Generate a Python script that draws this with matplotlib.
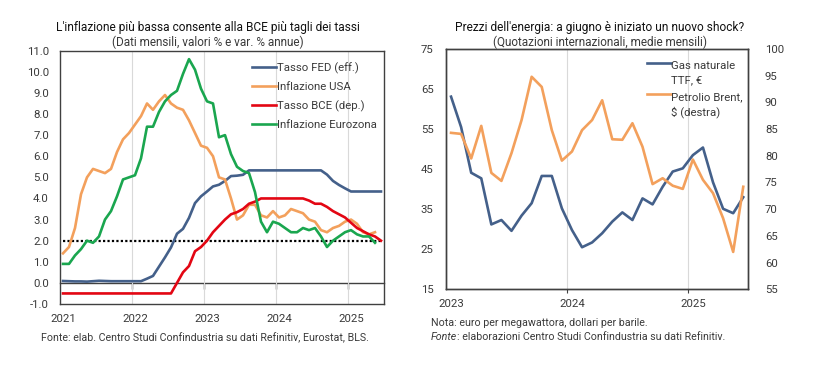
import matplotlib
matplotlib.use("Agg")
import matplotlib.pyplot as plt
from matplotlib.ticker import FixedLocator, NullFormatter, FuncFormatter
from matplotlib.legend_handler import HandlerLine2D
from matplotlib.text import Annotation
import numpy as np

plt.rcParams['font.family'] = ['Roboto', 'DejaVu Sans']

# ---------------- data: left chart (monthly, Jan 2021 - Jun 2025) ----------------
years_left = ['2021', '2022', '2023', '2024', '2025']
fed_rate = [0.09, 0.08, 0.07, 0.07, 0.06, 0.08, 0.10, 0.09, 0.08, 0.08, 0.08, 0.08,
            0.08, 0.08, 0.20, 0.33, 0.77, 1.21, 1.68, 2.33, 2.56, 3.08, 3.78, 4.10,
            4.33, 4.57, 4.65, 4.83, 5.06, 5.08, 5.12, 5.33, 5.33, 5.33, 5.33, 5.33,
            5.33, 5.33, 5.33, 5.33, 5.33, 5.33, 5.33, 5.33, 5.13, 4.83, 4.64, 4.48,
            4.33, 4.33, 4.33, 4.33, 4.33, 4.33]
usa_infl = [1.4, 1.7, 2.6, 4.2, 5.0, 5.4, 5.3, 5.2, 5.4, 6.2, 6.8, 7.1,
            7.5, 7.9, 8.5, 8.2, 8.6, 8.9, 8.5, 8.3, 8.2, 7.7, 7.1, 6.5,
            6.4, 6.0, 5.0, 4.9, 4.0, 3.0, 3.2, 3.7, 3.7, 3.2, 3.1, 3.4,
            3.1, 3.2, 3.5, 3.4, 3.3, 3.0, 2.9, 2.5, 2.4, 2.6, 2.7, 2.9,
            3.0, 2.8, 2.4, 2.3, 2.4]
ecb_rate = [-0.5] * 12 + \
           [-0.5, -0.5, -0.5, -0.5, -0.5, -0.5, -0.5, 0.0, 0.5, 0.8, 1.5, 1.7,
            2.0, 2.4, 2.7, 3.0, 3.25, 3.35, 3.5, 3.75, 3.85, 4.0, 4.0, 4.0,
            4.0, 4.0, 4.0, 4.0, 4.0, 3.9, 3.75, 3.75, 3.6, 3.4, 3.25, 3.1,
            2.85, 2.6, 2.45, 2.3, 2.2, 2.0]
ez_infl = [0.9, 0.9, 1.3, 1.6, 2.0, 1.9, 2.2, 3.0, 3.4, 4.1, 4.9, 5.0,
           5.1, 5.9, 7.4, 7.4, 8.1, 8.6, 8.9, 9.1, 9.9, 10.6, 10.1, 9.2,
           8.6, 8.5, 6.9, 7.0, 6.1, 5.5, 5.3, 5.2, 4.3, 2.9, 2.4, 2.9,
           2.8, 2.6, 2.4, 2.4, 2.6, 2.5, 2.6, 2.2, 1.7, 2.0, 2.2, 2.4,
           2.5, 2.3, 2.2, 2.2, 1.9]
target = [2.0] * 54

# ---------------- data: right chart (monthly, Jan 2023 - Jun 2025) ----------------
years_right = ['2023', '2024', '2025']
gas_ttf = [63.1, 55.5, 44.1, 42.7, 31.2, 32.3, 29.6, 33.4, 36.5, 43.3, 43.3, 35.2,
           29.8, 25.5, 26.7, 29.0, 31.9, 34.2, 32.3, 37.7, 36.2, 40.6, 44.4, 45.2,
           48.5, 50.4, 41.7, 35.1, 34.0, 38.0]
brent = [84.3, 84.1, 79.5, 85.6, 76.8, 75.3, 80.5, 86.7, 94.8, 92.9, 84.8, 79.1,
         80.8, 84.8, 86.7, 90.4, 83.1, 83.0, 86.1, 81.7, 74.7, 75.8, 74.4, 73.8,
         79.3, 75.5, 73.0, 68.3, 62.0, 74.2]

BLUE = '#44608a'
ORANGE = '#f3a05c'
RED = '#e30613'
GREEN = '#1aa64f'
SPINE = '#404040'
GRID = '#d9d9d9'
TXT = '#3a3a3a'
FS_TICK = 8.2
FS_LEG = 8.2
FS_NOTE = 7.7


class TopLine(HandlerLine2D):
    """Legend line aligned with the first line of a two-line label."""
    def __init__(self, shift, **kw):
        super().__init__(**kw)
        self.shift = shift

    def create_artists(self, legend, orig_handle, xdescent, ydescent, width, height,
                       fontsize, trans):
        arts = super().create_artists(legend, orig_handle, xdescent, ydescent, width,
                                      height, fontsize, trans)
        for a in arts:
            a.set_ydata(np.asarray(a.get_ydata(), dtype=float) + self.shift)
        return arts


fig = plt.figure(figsize=(8.25, 3.76), dpi=100)

# ================= left chart =================
ax1 = fig.add_axes([60 / 825, 1 - 304 / 376, 324 / 825, 253.3 / 376])
xl = np.arange(len(fed_rate))
ax1.plot(np.arange(len(target)), target, color='black', ls=(0, (1, 1)), lw=1.6, zorder=2)
ax1.plot(xl, fed_rate, color=BLUE, lw=1.9, label='Tasso FED (eff.)', zorder=3)
ax1.plot(np.arange(len(usa_infl)), usa_infl, color=ORANGE, lw=1.9, label='Inflazione USA', zorder=3)
ax1.plot(xl, ecb_rate, color=RED, lw=1.9, label='Tasso BCE (dep.)', zorder=3)
ax1.plot(np.arange(len(ez_infl)), ez_infl, color=GREEN, lw=1.9, label='Inflazione Eurozona', zorder=3)

ax1.set_xlim(-0.5, len(fed_rate) - 0.5)
ax1.set_ylim(-1, 11)
ax1.set_yticks(np.arange(-1, 11.01, 1))
ax1.yaxis.set_major_formatter(FuncFormatter(lambda v, p: f'{v:.1f}'))
bounds_l = [12 * k - 0.5 for k in range(1, len(years_left))]
ax1.xaxis.set_major_locator(FixedLocator(bounds_l))
ax1.xaxis.set_major_formatter(NullFormatter())
ax1.xaxis.set_minor_locator(FixedLocator([12 * k for k in range(len(years_left))]))
ax1.set_xticklabels(years_left, minor=True)
ax1.tick_params(axis='x', which='both', length=0, pad=7, labelsize=FS_TICK, labelcolor=TXT)
ax1.tick_params(axis='y', length=0, pad=8, labelsize=FS_TICK, labelcolor=TXT)
ax1.grid(axis='x', which='major', color=GRID, lw=0.8)
ax1.set_axisbelow(True)
for s in ax1.spines.values():
    s.set_color(SPINE)
    s.set_linewidth(1.0)

zero = ax1.secondary_xaxis(1 / 12)
zero.xaxis.set_major_locator(FixedLocator(bounds_l))
zero.tick_params(axis='x', direction='out', length=4, width=1, color=SPINE,
                 labelbottom=False, labeltop=False)
for s in zero.spines.values():
    s.set_color(SPINE)
    s.set_linewidth(1.0)

leg1 = ax1.legend(loc='upper left', bbox_to_anchor=(0.593, 0.954), frameon=False,
                  fontsize=FS_LEG, handlelength=2.1, handletextpad=0.05, labelspacing=0.72,
                  borderpad=0, borderaxespad=0)
for t in leg1.get_texts():
    t.set_color(TXT)

fig.text(208 / 825, 1 - 27.5 / 376, "L'inflazione più bassa consente alla BCE più tagli dei tassi",
         ha='center', va='center', fontsize=8.6, color='#111111')
fig.text(208 / 825, 1 - 42.5 / 376, "(Dati mensili, valori % e var. % annue)",
         ha='center', va='center', fontsize=8.5, color=TXT)
fig.text(205 / 825, 1 - 338 / 376,
         "Fonte: elab. Centro Studi Confindustria su dati Refinitiv, Eurostat, BLS.",
         ha='center', va='center', fontsize=FS_NOTE, color=TXT)

# ================= right chart =================
ax2 = fig.add_axes([446 / 825, 1 - 289.3 / 376, 302.3 / 825, 240.3 / 376])
ax2r = ax2.twinx()
xr = np.arange(len(gas_ttf))
l_gas, = ax2.plot(xr, gas_ttf, color=BLUE, lw=1.9, label='Gas naturale\nTTF, €')
l_brent, = ax2r.plot(np.arange(len(brent)), brent, color=ORANGE, lw=1.9,
                     label='Petrolio Brent,\n$ (destra)')

ax2.set_xlim(-0.5, len(gas_ttf) - 0.5)
ax2.set_ylim(15, 75)
ax2.set_yticks(np.arange(15, 75.01, 10))
ax2r.set_ylim(55, 100)
ax2r.set_yticks(np.arange(55, 100.01, 5))
bounds_r = [12 * k - 0.5 for k in range(1, len(years_right))]
ax2.xaxis.set_major_locator(FixedLocator(bounds_r))
ax2.xaxis.set_major_formatter(NullFormatter())
ax2.xaxis.set_minor_locator(FixedLocator([12 * k for k in range(len(years_right))]))
ax2.set_xticklabels(years_right, minor=True)
ax2.tick_params(axis='x', which='major', direction='out', length=3, color=SPINE)
ax2.tick_params(axis='x', which='minor', length=0, pad=7)
ax2.tick_params(axis='x', which='both', labelsize=FS_TICK, labelcolor=TXT)
ax2.tick_params(axis='y', length=0, pad=9, labelsize=FS_TICK, labelcolor=TXT)
ax2r.tick_params(axis='y', length=0, pad=12, labelsize=FS_TICK, labelcolor=TXT)
ax2.grid(axis='x', which='major', color=GRID, lw=0.8)
ax2.set_axisbelow(True)
for a in (ax2, ax2r):
    for s in a.spines.values():
        s.set_color(SPINE)
        s.set_linewidth(1.0)

LS = 1.47
shift = 7.7
leg2 = ax2r.legend([l_gas, l_brent], [l_gas.get_label(), l_brent.get_label()],
                   loc='upper left', bbox_to_anchor=(0.664, 0.948), frameon=False,
                   fontsize=FS_LEG, handlelength=2.1, handletextpad=0.05, labelspacing=0.6,
                   borderpad=0, borderaxespad=0,
                   handler_map={l_gas: TopLine(shift), l_brent: TopLine(shift)})
for t in leg2.get_texts():
    t.set_color(TXT)
    t.set_linespacing(LS)

fig.text(600 / 825, 1 - 27.5 / 376, "Prezzi dell'energia: a giugno è iniziato un nuovo shock?",
         ha='center', va='center', fontsize=8.6, color='#111111')
fig.text(600 / 825, 1 - 42.5 / 376, "(Quotazioni internazionali, medie mensili)",
         ha='center', va='center', fontsize=8.5, color=TXT)
fig.text(431 / 825, 1 - 323 / 376, "Nota: euro per megawattora, dollari per barile.",
         ha='left', va='center', fontsize=FS_NOTE, color=TXT)
t_f = fig.text(431 / 825, 1 - 337 / 376, "Fonte", ha='left', va='center',
               fontsize=FS_NOTE, color=TXT, style='italic')
fig.add_artist(Annotation(": elaborazioni Centro Studi Confindustria su dati Refinitiv.",
                          xy=(1, 0), xycoords=t_f, ha='left', va='bottom',
                          fontsize=FS_NOTE, color=TXT))

fig.savefig('out.png', dpi=100)
